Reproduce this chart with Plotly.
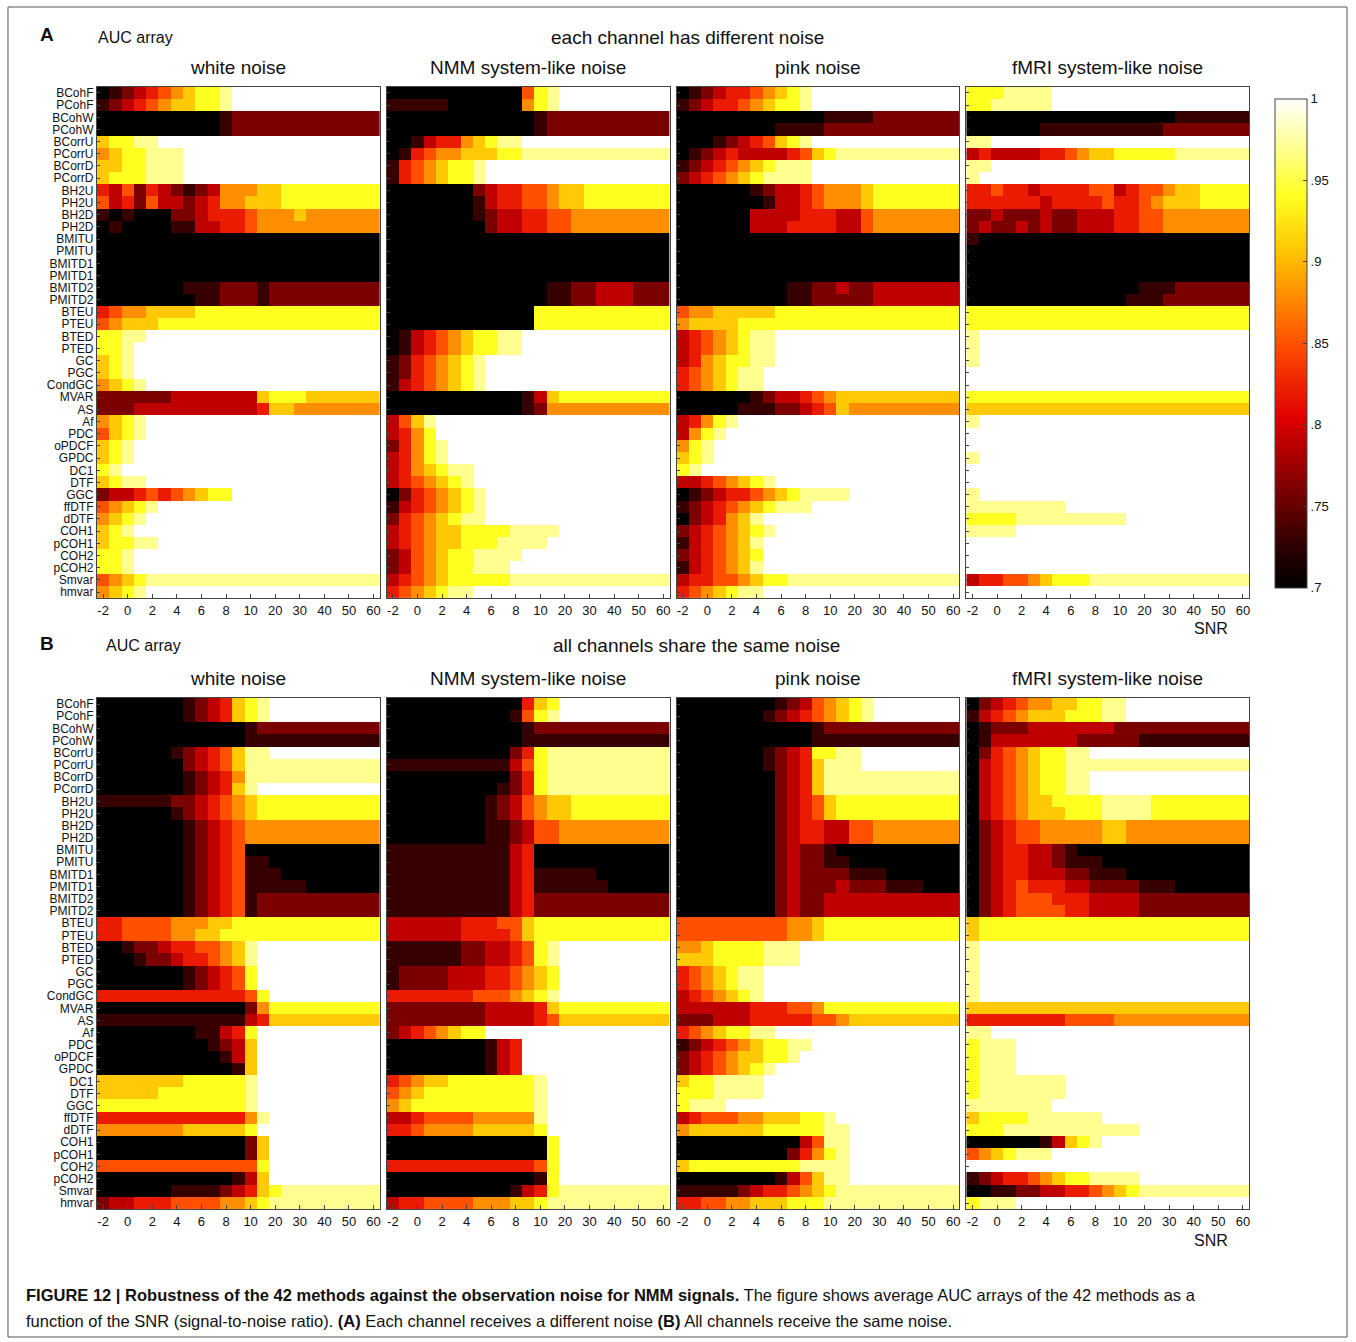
import plotly.graph_objects as go

W, H = 1356, 1342

methods = ["BCohF", "PCohF", "BCohW", "PCohW", "BCorrU", "PCorrU", "BCorrD", "PCorrD",
           "BH2U", "PH2U", "BH2D", "PH2D", "BMITU", "PMITU", "BMITD1", "PMITD1",
           "BMITD2", "PMITD2", "BTEU", "PTEU", "BTED", "PTED", "GC", "PGC", "CondGC",
           "MVAR", "AS", "Af", "PDC", "oPDCF", "GPDC", "DC1", "DTF", "GGC", "ffDTF",
           "dDTF", "COH1", "pCOH1", "COH2", "pCOH2", "Smvar", "hmvar"]
snr = [-2, -1, 0, 1, 2, 3, 4, 5, 6, 7, 8, 9, 10, 15, 20, 25, 30, 35, 40, 45, 50, 55, 60]
tick_snr = [-2, 0, 2, 4, 6, 8, 10, 20, 30, 40, 50, 60]
noise_titles = ["white noise", "NMM system-like noise", "pink noise", "fMRI system-like noise"]

# AUC level codes per row: 0..9 -> .70 .. .97, w -> 1.0
A_white = ["01234567889wwwwwwwwwwww", "12345677889wwwwwwwwwwww", "00000000001222222222222", "00000000001222222222222",
           "78899wwwwwwwwwwwwwwwwww", "6788999wwwwwwwwwwwwwwww", "7788999wwwwwwwwwwwwwwww", "7888999wwwwwwwwwwwwwwww",
           "43524321236667788888888", "53425332346677788888888", "10100022344456667666666", "01000011334456666666666",
           "00000000000000000000000", "00000000000000000000000", "00000000000000000000000", "00000000000000000000000",
           "00000001112221222222222", "00000000112221222222222", "45667777888888888888888", "56777888888888888888888",
           "8899wwwwwwwwwwwwwwwwwww", "889wwwwwwwwwwwwwwwwwwww", "789wwwwwwwwwwwwwwwwwwww", "789wwwwwwwwwwwwwwwwwwww",
           "6789wwwwwwwwwwwwwwwwwww", "22222233333337888777777", "22233333333334776666666", "6789wwwwwwwwwwwwwwwwwww",
           "5789wwwwwwwwwwwwwwwwwww", "789wwwwwwwwwwwwwwwwwwww", "789wwwwwwwwwwwwwwwwwwww", "89wwwwwwwwwwwwwwwwwwwww",
           "7899wwwwwwwwwwwwwwwwwww", "23345456788wwwwwwwwwwww", "56789wwwwwwwwwwwwwwwwww", "6789wwwwwwwwwwwwwwwwwww",
           "789wwwwwwwwwwwwwwwwwwww", "78899wwwwwwwwwwwwwwwwww", "889wwwwwwwwwwwwwwwwwwww", "889wwwwwwwwwwwwwwwwwwww",
           "56789999999999999999999", "6789wwwwwwwwwwwwwwwwwww"]
A_nmm = ["00000000000589wwwwwwwww", "11111000000689wwwwwwwww", "00000000000012222222222", "00000000000012222222222",
         "00134467899wwwwwwwwwwww", "01456677788999999999999", "14567889wwwwwwwwwwwwwww", "14567889wwwwwwwwwwwwwww",
         "00000002344556778888888", "00000001344556778888888", "00000001233445566666666", "00000000233445566666666",
         "00000000000000000000000", "00000000000000000000000", "00000000000000000000000", "00000000000000000000000",
         "00000000000001122333222", "00000000000001122333222", "00000000000088888888888", "00000000000088888888888",
         "01345678899wwwwwwwwwwww", "01345678899wwwwwwwwwwww", "12456789wwwwwwwwwwwwwww", "12456789wwwwwwwwwwwwwww",
         "13456789wwwwwwwwwwwwwww", "00000000000137888888888", "00000000000126666666666", "3579wwwwwwwwwwwwwwwwwww",
         "3468wwwwwwwwwwwwwwwwwww", "24689wwwwwwwwwwwwwwwwww", "34689wwwwwwwwwwwwwwwwww", "3467899wwwwwwwwwwwwwwww",
         "3456789wwwwwwwwwwwwwwww", "02456789wwwwwwwwwwwwwww", "13456789wwwwwwwwwwwwwww", "24567899wwwwwwwwwwwwwww",
         "34567788889999wwwwwwwww", "3456778889999wwwwwwwwww", "23567889999wwwwwwwwwwww", "2356788999wwwwwwwwwwwww",
         "34567888889999999999999", "4567899wwwwwwwwwwwwwwww"]
A_pink = ["01234456789wwwwwwwwwwww", "12344567889wwwwwwwwwwww", "00000000000011112222222", "00000000111122222222222",
          "00012345789wwwwwwwwwwww", "01234333345789999999999", "12345678999wwwwwwwwwwww", "23456789999wwwwwwwwwwww",
          "00000012334566678888888", "00000001334566678888888", "00000033334443356666666", "00000033344443356666666",
          "00000000000000000000000", "00000000000000000000000", "00000000000000000000000", "00000000000000000000000",
          "00000000011223223333333", "00000000011222223333333", "56677777888888888888888", "67777888888888888888888",
          "34567899wwwwwwwwwwwwwww", "34567899wwwwwwwwwwwwwww", "34678899wwwwwwwwwwwwwww", "4567899wwwwwwwwwwwwwwww",
          "4567899wwwwwwwwwwwwwwww", "00000012334567777777777", "00000111223457666666666", "34689wwwwwwwwwwwwwwwwww",
          "3689wwwwwwwwwwwwwwwwwww", "689wwwwwwwwwwwwwwwwwwww", "789wwwwwwwwwwwwwwwwwwww", "89wwwwwwwwwwwwwwwwwwwww",
          "33456789wwwwwwwwwwwwwww", "01234456789999wwwwwwwww", "12345678999wwwwwwwwwwww", "0234679wwwwwwwwwwwwwwww",
          "23456789wwwwwwwwwwwwwww", "1345679wwwwwwwwwwwwwwww", "2345678wwwwwwwwwwwwwwww", "1345679wwwwwwwwwwwwwwww",
          "34455678899999999999999", "4567899wwwwwwwwwwwwwwww"]
A_fmri = ["8889999wwwwwwwwwwwwwwww", "8899999wwwwwwwwwwwwwwww", "00000000000000000111111", "00000011111111112222222",
          "99wwwwwwwwwwwwwwwwwwwww", "34333344567788888999999", "99wwwwwwwwwwwwwwwwwwwww", "9wwwwwwwwwwwwwwwwwwwwww",
          "44544344445534556778888", "44444434444544567778888", "22322232233344556666666", "23223232233344556666666",
          "10000000000000000000000", "00000000000000000000000", "00000000000000000000000", "00000000000000000000000",
          "00000000000000111222222", "00000000000001112222222", "88888888888888888888888", "88888888888888888888888",
          "9wwwwwwwwwwwwwwwwwwwwww", "9wwwwwwwwwwwwwwwwwwwwww", "9wwwwwwwwwwwwwwwwwwwwww", "wwwwwwwwwwwwwwwwwwwwwww",
          "wwwwwwwwwwwwwwwwwwwwwww", "88888888888888888888888", "77777777777777777777777", "9wwwwwwwwwwwwwwwwwwwwww",
          "wwwwwwwwwwwwwwwwwwwwwww", "wwwwwwwwwwwwwwwwwwwwwww", "9wwwwwwwwwwwwwwwwwwwwww", "wwwwwwwwwwwwwwwwwwwwwww",
          "wwwwwwwwwwwwwwwwwwwwwww", "9wwwwwwwwwwwwwwwwwwwwww", "99999999wwwwwwwwwwwwwww", "8888999999999wwwwwwwwww",
          "9999wwwwwwwwwwwwwwwwwww", "wwwwwwwwwwwwwwwwwwwwwww", "wwwwwwwwwwwwwwwwwwwwwww", "wwwwwwwwwwwwwwwwwwwwwww",
          "34455678889999999999999", "wwwwwwwwwwwwwwwwwwwwwww"]
B_white = ["00000001234789wwwwwwwww", "00000001234789wwwwwwwww", "00000000000012222222222", "00000000000011111111111",
           "00000012345799wwwwwwwww", "00000002345799999999999", "00000001234699999999999", "0000000123479wwwwwwwwww",
           "11111122345678888888888", "00000012345678888888888", "00000001234566666666666", "00000001234566666666666",
           "00000001234500000000000", "00000001234511000000000", "00000001234511100000000", "00000001234511111000000",
           "00000001234512222222222", "00000001234512222222222", "44555566677888888888888", "44555566778888888888888",
           "0012234455679wwwwwwwwww", "0001223445679wwwwwwwwww", "0000000123458wwwwwwwwww", "0000000123458wwwwwwwwww",
           "44444444444458wwwwwwwww", "00000000000026888888888", "11111111111134777777777", "0000000011348wwwwwwwwww",
           "0000000001237wwwwwwwwww", "0000000000137wwwwwwwwww", "0000000000017wwwwwwwwww", "7777777888889wwwwwwwwww",
           "7777788888889wwwwwwwwww", "8888888888889wwwwwwwwww", "44444444444469wwwwwwwww", "6666666777778wwwwwwwwww",
           "00000000000027wwwwwwwww", "00000000000027wwwwwwwww", "55555555555558wwwwwwwww", "00000000000137wwwwwwwww",
           "00000011112347899999999", "23344455556678999999999"]
B_nmm = ["00000000000478wwwwwwwww", "00000000001589wwwwwwwww", "00000000000122222222222", "00000000000111111111111",
         "00000000002489999999999", "11111111113589999999999", "00000000002489999999999", "00000000012489999999999",
         "00000000123567788888888", "00000000123567788888888", "00000000112355666666666", "00000000112355666666666",
         "11111111113400000000000", "11111111113400000000000", "11111111113411111000000", "11111111113411111100000",
         "11111111113422222222222", "11111111113422222222222", "33333344455788888888888", "33333344445788888888888",
         "11111122334589wwwwwwwww", "11111122334589wwwwwwwww", "12222333445678wwwwwwwww", "12222333445678wwwwwwwww",
         "44444445556789wwwwwwwww", "22222222333347888888888", "22222222333345777777777", "23456788wwwwwwwwwwwwwww",
         "00000000134wwwwwwwwwwww", "00000000134wwwwwwwwwwww", "00000000134wwwwwwwwwwww", "4567788888889wwwwwwwwww",
         "5678888888889wwwwwwwwww", "6788888888889wwwwwwwwww", "3345555666669wwwwwwwwww", "4456666777778wwwwwwwwww",
         "00000000000008wwwwwwwww", "00000000000008wwwwwwwww", "44444444444458wwwwwwwww", "00000000000018wwwwwwwww",
         "00000000001348999999999", "34455556667789999999999"]
B_pink = ["0000000012356789wwwwwww", "0000000123456789wwwwwww", "00000000000122222222222", "00000000000111111111111",
          "000000012348899wwwwwwww", "000000012347999wwwwwwww", "00000000234799999999999", "00000000234799999999999",
          "00000000234578888888888", "00000000234578888888888", "00000000234433556666666", "00000000234433556666666",
          "00000000232210000000000", "00000000232211000000000", "00000000232222111000000", "00000000232223222111000",
          "00000000232233333333333", "00000000232233333333333", "55555555566788888888888", "55555555566788888888888",
          "6678888999wwwwwwwwwwwww", "7778888999wwwwwwwwwwwww", "4567899wwwwwwwwwwwwwwww", "4567899wwwwwwwwwwwwwwww",
          "3456789wwwwwwwwwwwwwwww", "33333344455688888888888", "22233344444556777777777", "45678899wwwwwwwwwwwwwww",
          "12345678899wwwwwwwwwwww", "2345677889wwwwwwwwwwwww", "23456789wwwwwwwwwwwwwww", "7889999wwwwwwwwwwwwwwww",
          "8889999wwwwwwwwwwwwwwww", "8999wwwwwwwwwwwwwwwwwww", "3455566777889wwwwwwwwww", "67777778888899wwwwwwwww",
          "00000000003599wwwwwwwww", "00000000024689wwwwwwwww", "78888888889999wwwwwwwww", "00000000135799wwwwwwwww",
          "11111234456789999999999", "44556677788899999999999"]
B_fmri = ["0234566778899wwwwwwwwww", "1345677788899wwwwwwwwww", "01222333333322222222222", "01333333322222111111111",
          "0245678899wwwwwwwwwwwww", "03456788999999999999999", "0345678899wwwwwwwwwwwww", "0345678899wwwwwwwwwwwww",
          "03456778888999988888888", "03456777888999988888888", "02345566666776666666666", "02345566666776666666666",
          "02344332100000000000000", "02344332111000000000000", "02344333221110000000000", "02345444332222111000000",
          "02345554443333222222222", "02345555443333222222222", "78888888888888888888888", "78888888888888888888888",
          "9wwwwwwwwwwwwwwwwwwwwww", "9wwwwwwwwwwwwwwwwwwwwww", "9wwwwwwwwwwwwwwwwwwwwww", "9wwwwwwwwwwwwwwwwwwwwww",
          "9wwwwwwwwwwwwwwwwwwwwww", "77777777777777777777777", "44444444555566666666666", "99wwwwwwwwwwwwwwwwwwwww",
          "8999wwwwwwwwwwwwwwwwwww", "8999wwwwwwwwwwwwwwwwwww", "8999wwwwwwwwwwwwwwwwwww", "89999999wwwwwwwwwwwwwww",
          "89999999wwwwwwwwwwwwwww", "9999999wwwwwwwwwwwwwwww", "78888999999wwwwwwwwwwww", "88899999999999wwwwwwwww",
          "00000013789wwwwwwwwwwww", "5678999wwwwwwwwwwwwwwww", "wwwwwwwwwwwwwwwwwwwwwww", "12344567889999wwwwwwwww",
          "00112233445678999999999", "8999wwwwwwwwwwwwwwwwwww"]


def decode(rows):
    out = []
    for r in rows:
        r = (r + r[-1] * 23)[:23]
        out.append([1.0 if c == "w" else 0.7 + int(c) * 0.03 for c in r])
    return out


hot = [[0, "#000000"], [0.08, "#2a0000"], [0.35, "#e00000"], [0.5, "#ff5000"],
       [0.68, "#ffc000"], [0.8, "#ffff20"], [1, "#ffffff"]]

panels = [[A_white, A_nmm, A_pink, A_fmri], [B_white, B_nmm, B_pink, B_fmri]]
xpx = [(97, 380), (387, 670), (677, 960), (967, 1250)]
ypx = [(86, 598), (698, 1210)]

fig = go.Figure()
font = "Liberation Sans, Arial, sans-serif"
tickidx = [snr.index(v) for v in tick_snr]
n = 0
for pr, prow in enumerate(panels):
    for pc, data in enumerate(prow):
        n += 1
        xa = "x" if n == 1 else "x%d" % n
        ya = "y" if n == 1 else "y%d" % n
        fig.add_trace(go.Heatmap(
            z=decode(data), x=list(range(23)), y=list(range(42)),
            colorscale=hot, zmin=0.7, zmax=1.0, xaxis=xa, yaxis=ya,
            showscale=(n == 1),
            colorbar=dict(x=1266 / W, xanchor="left", y=1 - 88 / H, yanchor="top",
                          len=510 / H, lenmode="fraction", thickness=32,
                          tickvals=[0.7, 0.75, 0.8, 0.85, 0.9, 0.95, 1.0],
                          ticktext=[".7", ".75", ".8", ".85", ".9", ".95", "1"],
                          ticks="inside", ticklen=4, outlinecolor="#444", outlinewidth=1,
                          tickfont=dict(size=13, family=font, color="#111"))))
        x0, x1 = xpx[pc]
        y0, y1 = ypx[pr]
        fig.layout["xaxis" if n == 1 else "xaxis%d" % n] = dict(
            domain=[x0 / W, x1 / W], anchor=ya, tickvals=tickidx,
            ticktext=[str(v) for v in tick_snr], ticks="inside", ticklen=4,
            tickfont=dict(size=13, family=font, color="#111"), showline=True, mirror=True,
            linecolor="#444", showgrid=False, zeroline=False, range=[-0.5, 22.5])
        fig.layout["yaxis" if n == 1 else "yaxis%d" % n] = dict(
            domain=[1 - y1 / H, 1 - y0 / H], anchor=xa, tickvals=list(range(42)),
            ticktext=methods if pc == 0 else [""] * 42, ticks="inside", ticklen=3,
            tickfont=dict(size=12, family=font, color="#111"), showline=True, mirror=True,
            linecolor="#444", showgrid=False, zeroline=False, range=[41.5, -0.5])
        fig.add_annotation(x=(x0 + x1) / 2 / W, y=1 - (y0 - 19) / H, xref="paper", yref="paper",
                           xanchor="center", yanchor="middle", text=noise_titles[pc], showarrow=False,
                           font=dict(size=19, family=font, color="#111"))


def txt(x, y, s, size=16, anchor="left"):
    fig.add_annotation(x=x / W, y=1 - y / H, xref="paper", yref="paper", text=s, showarrow=False,
                       xanchor=anchor, yanchor="middle", font=dict(size=size, family=font, color="#111"))


txt(38, 34, "<b>A</b>", 19)
txt(96, 37, "AUC array", 16)
txt(688, 37, "each channel has different noise", 19, "center")
txt(1212, 628, "SNR", 16, "center")
txt(38, 643, "<b>B</b>", 19)
txt(104, 645, "AUC array", 16)
txt(697, 645, "all channels share the same noise", 19, "center")
txt(1212, 1241, "SNR", 16, "center")
txt(24, 1296, "<b>FIGURE 12 | Robustness of the 42 methods against the observation noise for NMM signals.</b>"
    " The figure shows average AUC arrays of the 42 methods as a", 16.5)
txt(24, 1322, "function of the SNR (signal-to-noise ratio). <b>(A)</b> Each channel receives a different noise"
    " <b>(B)</b> All channels receive the same noise.", 16.5)

fig.add_shape(type="rect", xref="paper", yref="paper", x0=8 / W, x1=1348 / W, y0=1 - 1338 / H,
              y1=1 - 6 / H, line=dict(color="#555", width=1))
fig.update_layout(width=W, height=H, margin=dict(l=0, r=0, t=0, b=0),
                  plot_bgcolor="white", paper_bgcolor="white", showlegend=False)
fig.write_html("out.html", config={"displayModeBar": False},
               post_script="document.body.style.margin='0';document.body.style.overflow='hidden';")
